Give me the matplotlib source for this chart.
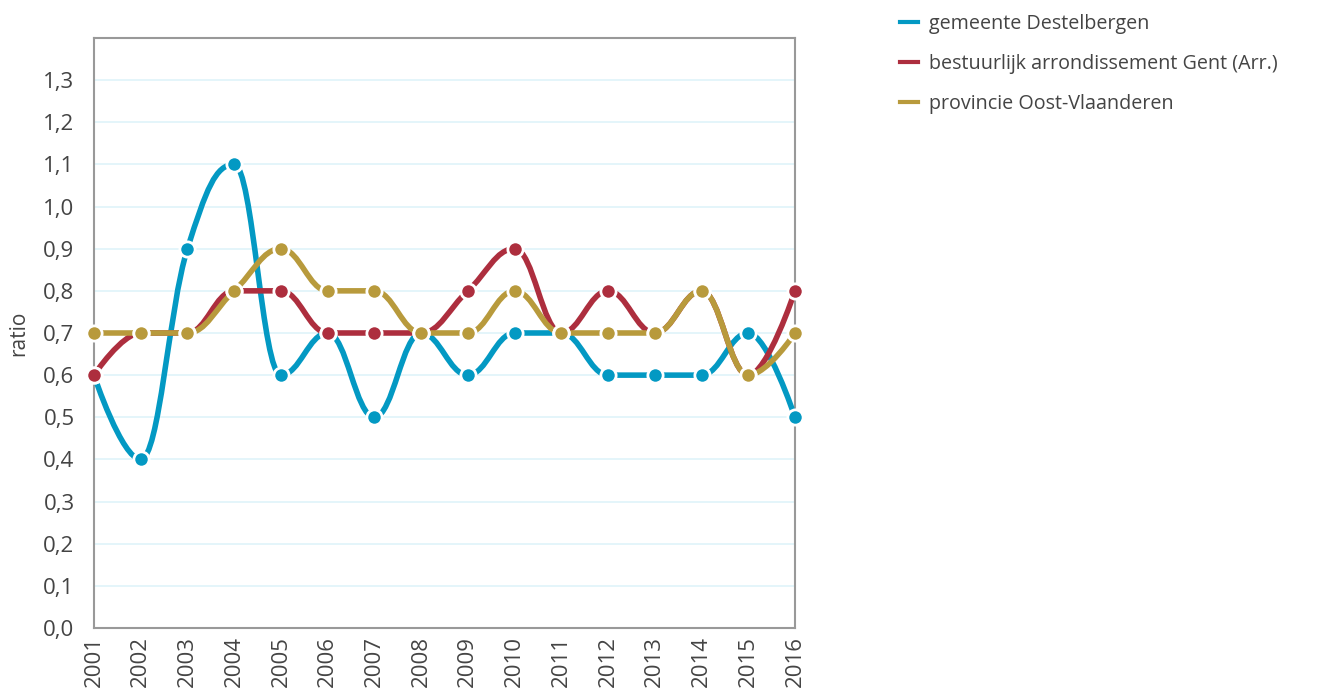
import matplotlib
matplotlib.use("Agg")
import matplotlib.pyplot as plt
from matplotlib.path import Path
import matplotlib.patches as patches

plt.rcParams['font.family'] = ['Open Sans', 'DejaVu Sans']

years = list(range(2001, 2017))
destelbergen = [0.6, 0.4, 0.9, 1.1, 0.6, 0.7, 0.5, 0.7, 0.6, 0.7, 0.7, 0.6, 0.6, 0.6, 0.7, 0.5]
gent_arr = [0.6, 0.7, 0.7, 0.8, 0.8, 0.7, 0.7, 0.7, 0.8, 0.9, 0.7, 0.8, 0.7, 0.8, 0.6, 0.8]
oost_vl = [0.7, 0.7, 0.7, 0.8, 0.9, 0.8, 0.8, 0.7, 0.7, 0.8, 0.7, 0.7, 0.7, 0.8, 0.6, 0.7]

series_names = ["gemeente Destelbergen",
                "bestuurlijk arrondissement Gent (Arr.)",
                "provincie Oost-Vlaanderen"]
colors = ["#0399c3", "#ad2e3e", "#b89a3c"]
text_col = "#444444"
yticks = [i / 10 for i in range(14)]


def spline_path(xs, ys, smoothing=1.5):
    """Highcharts-achtige spline: bezier-controlepunten per punt."""
    n = len(xs)
    denom = smoothing + 1
    left = [(xs[i], ys[i]) for i in range(n)]
    right = [(xs[i], ys[i]) for i in range(n)]
    for i in range(1, n - 1):
        x, y = xs[i], ys[i]
        lx, ly = xs[i - 1], ys[i - 1]
        nx, ny = xs[i + 1], ys[i + 1]
        lcx = (smoothing * x + lx) / denom
        lcy = (smoothing * y + ly) / denom
        rcx = (smoothing * x + nx) / denom
        rcy = (smoothing * y + ny) / denom
        if rcx != lcx:
            corr = (rcy - lcy) * (rcx - x) / (rcx - lcx) + y - rcy
            lcy += corr
            rcy += corr
        if lcy > ly and lcy > y:
            lcy = max(ly, y)
            rcy = 2 * y - lcy
        elif lcy < ly and lcy < y:
            lcy = min(ly, y)
            rcy = 2 * y - lcy
        if rcy > ny and rcy > y:
            rcy = max(ny, y)
            lcy = 2 * y - rcy
        elif rcy < ny and rcy < y:
            rcy = min(ny, y)
            lcy = 2 * y - rcy
        left[i] = (lcx, lcy)
        right[i] = (rcx, rcy)
    verts = [(xs[0], ys[0])]
    codes = [Path.MOVETO]
    for i in range(1, n):
        verts += [right[i - 1], left[i], (xs[i], ys[i])]
        codes += [Path.CURVE4] * 3
    return Path(verts, codes)


fig = plt.figure(figsize=(13.27, 7.0), dpi=100)
ax = fig.add_axes([0.0708, 0.1029, 0.5283, 0.8428])

for vals, col, name in zip([destelbergen, gent_arr, oost_vl], colors, series_names):
    path = spline_path(years, vals)
    ax.add_patch(patches.PathPatch(path, facecolor='none', edgecolor=col,
                                   linewidth=4, capstyle='round', zorder=3))
    ax.plot(years, vals, linestyle='none', marker='o', markersize=11,
            markerfacecolor=col, markeredgecolor='white', markeredgewidth=2,
            clip_on=False, zorder=4)
    ax.plot([], [], color=col, linewidth=3, label=name)

ax.set_xlim(2001, 2016)
ax.set_ylim(0, 1.4)
ax.set_xticks(years)
ax.set_xticklabels([str(y) for y in years], rotation=90, fontsize=16, color=text_col)
ax.set_yticks(yticks)
ax.set_yticklabels([f"{v:.1f}".replace('.', ',') for v in yticks], fontsize=16, color=text_col)
ax.tick_params(axis='y', length=0, pad=14)
ax.tick_params(axis='x', length=0, pad=6)
ax.grid(axis='y', color='#dff3fa', linewidth=1.2, zorder=0)
for sp in ax.spines.values():
    sp.set_color('#999999')
    sp.set_linewidth(1.5)
ax.set_ylabel("ratio", fontsize=15, color=text_col, labelpad=10)

fig.legend(loc='upper left', bbox_to_anchor=(0.6645, 1.005), frameon=False,
           fontsize=14.2, handlelength=0.95, handletextpad=0.55, labelspacing=1.0,
           labelcolor=text_col)

fig.savefig("out.png", dpi=100)
